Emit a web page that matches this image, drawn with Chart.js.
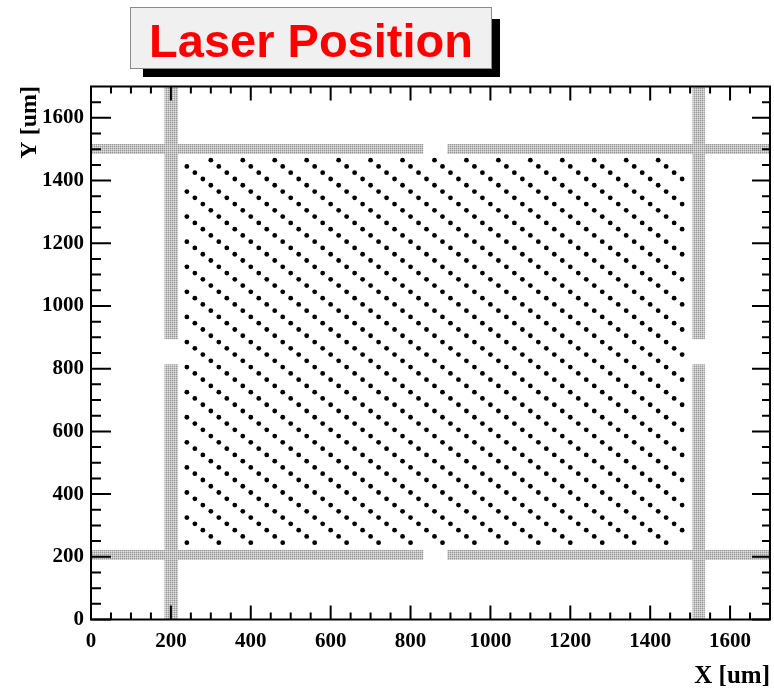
<!DOCTYPE html>
<html>
<head>
<meta charset="utf-8">
<script src="https://cdn.jsdelivr.net/npm/chart.js@4"></script>
<style>
  html, body { margin: 0; padding: 0; background: #fff; }
  #wrap { width: 774px; height: 689px; }
</style>
</head>
<body>
<div id="wrap"><canvas id="c" width="774" height="689"></canvas></div>
<script>
// ── data (um) ─────────────────────────────────
const colX = [240, 260, 280, 300, 320, 340, 360, 380, 400, 420, 440, 460, 480, 500, 520, 540,
  560, 580, 600, 620, 640, 660, 680, 700, 720, 740, 760, 780, 800, 820, 840, 860, 880, 900,
  920, 940, 960, 980, 1000, 1020, 1040, 1060, 1080, 1100, 1120, 1140, 1160, 1180, 1200, 1220,
  1240, 1260, 1280, 1300, 1320, 1340, 1360, 1380, 1400, 1420, 1440, 1460, 1480];
// laser spots in each column, columns repeat every 4
const rowsA = [1445, 1365, 1285, 1205, 1125, 1045, 965, 885, 805, 725, 645, 565, 485, 405, 325, 245];
const rowsB = [1425, 1345, 1265, 1185, 1105, 1025, 945, 865, 785, 705, 625, 545, 465, 385, 305];
const rowsC = [1405, 1325, 1245, 1165, 1085, 1005, 925, 845, 765, 685, 605, 525, 445, 365, 285];
const rowsD = [1465, 1385, 1305, 1225, 1145, 1065, 985, 905, 825, 745, 665, 585, 505, 425, 345, 265];
const colRows = [rowsA, rowsB, rowsC, rowsD];

// grey strips: horizontal ones (y range) split in x, vertical ones (x range) split in y
const stripH_Y = [[1485, 1517], [190, 222]];
const stripH_X = [[0, 832], [892, 1700]];
const stripV_X = [[184, 218], [1506, 1537]];
const stripV_Y = [[0, 814], [894, 1700]];

const xMajor = [0, 200, 400, 600, 800, 1000, 1200, 1400, 1600];
const xMinor = [50, 100, 150, 250, 300, 350, 450, 500, 550, 650, 700, 750, 850, 900, 950,
  1050, 1100, 1150, 1250, 1300, 1350, 1450, 1500, 1550, 1650];
const yMajor = xMajor;
const yMinor = xMinor;

// ── build ─────────────────────────────────────
const spots = colX.flatMap((x, i) => colRows[i % 4].map(y => ({ x, y })));

const pc = document.createElement('canvas');
pc.width = 2; pc.height = 2;
const pctx = pc.getContext('2d');
pctx.fillStyle = '#c2c2c2'; pctx.fillRect(0, 0, 2, 2);
pctx.fillStyle = '#999999'; pctx.fillRect(0, 0, 1, 1);
pctx.fillStyle = '#e0e0e0'; pctx.fillRect(1, 1, 1, 1);
const hatch = pctx.createPattern(pc, 'repeat');

function rect(x0, x1, y0, y1) {
  return {
    type: 'line',
    data: [{ x: x0, y: y0 }, { x: x1, y: y0 }, { x: x1, y: y1 }, { x: x0, y: y1 }, { x: x0, y: y0 }],
    showLine: true, borderWidth: 0, borderColor: 'rgba(0,0,0,0)',
    pointRadius: 0, fill: 'shape', backgroundColor: hatch, tension: 0,
  };
}
const strips = [];
stripH_Y.forEach(([y0, y1]) => stripH_X.forEach(([x0, x1]) => strips.push(rect(x0, x1, y0, y1))));
stripV_X.forEach(([x0, x1]) => stripV_Y.forEach(([y0, y1]) => strips.push(rect(x0, x1, y0, y1))));

const serif = 'Liberation Serif, Times New Roman, serif';

const decor = {
  id: 'decor',
  afterDraw(chart) {
    const { ctx, chartArea: a, scales: { x, y } } = chart;
    ctx.save();
    ctx.strokeStyle = '#000';
    ctx.lineWidth = 2;
    ctx.beginPath();
    const tickX = (vals, len) => vals.forEach(v => {
      const px = x.getPixelForValue(v);
      ctx.moveTo(px, a.bottom); ctx.lineTo(px, a.bottom - len);
      ctx.moveTo(px, a.top); ctx.lineTo(px, a.top + len);
    });
    const tickY = (vals, lenL, lenR) => vals.forEach(v => {
      const py = y.getPixelForValue(v);
      ctx.moveTo(a.left, py); ctx.lineTo(a.left + lenL, py);
      ctx.moveTo(a.right, py); ctx.lineTo(a.right - lenR, py);
    });
    tickX(xMajor, 14); tickX(xMinor, 7);
    tickY(yMajor, 20, 18); tickY(yMinor, 10, 8);
    ctx.stroke();
    ctx.strokeRect(a.left, a.top, a.right - a.left, a.bottom - a.top);

    // axis titles
    ctx.fillStyle = '#000';
    ctx.font = 'bold 25px ' + serif;
    ctx.textAlign = 'right'; ctx.textBaseline = 'middle';
    ctx.fillText('X [um]', 770, 677);
    ctx.translate(30, 86);
    ctx.rotate(-Math.PI / 2);
    ctx.font = 'bold 24px ' + serif;
    ctx.fillText('Y [um]', 0, 0);
    ctx.restore();

    // title box with shadow
    ctx.save();
    ctx.fillStyle = '#000';
    ctx.fillRect(143, 19, 357, 58);
    ctx.fillStyle = '#f0f0f0';
    ctx.fillRect(130, 7, 362, 62);
    ctx.strokeStyle = '#8a8a8a';
    ctx.lineWidth = 1;
    ctx.strokeRect(130.5, 7.5, 361, 61);
    ctx.fillStyle = '#ff0000';
    ctx.font = 'bold 47px Liberation Sans, Arial, sans-serif';
    ctx.textAlign = 'center'; ctx.textBaseline = 'alphabetic';
    ctx.fillText('Laser Position', 311, 57);
    ctx.restore();
  },
};

new Chart(document.getElementById('c'), {
  type: 'scatter',
  data: {
    datasets: [
      {
        label: 'spots', data: spots,
        pointRadius: 2.4, pointBackgroundColor: '#000', pointBorderWidth: 0, borderColor: '#000',
      },
      ...strips,
    ],
  },
  options: {
    responsive: false, animation: false, events: [],
    layout: { padding: { top: 86.5, right: 2, left: 0, bottom: 0 } },
    plugins: { legend: { display: false }, tooltip: { enabled: false } },
    scales: {
      x: {
        type: 'linear', min: 0, max: 1700,
        grid: { display: false, drawTicks: false }, border: { display: false },
        afterBuildTicks: s => { s.ticks = xMajor.map(v => ({ value: v })); },
        afterFit: s => { s.height = 69.5; },
        ticks: { autoSkip: false, maxRotation: 0, padding: 9, color: '#000',
          callback: v => String(v),
          font: { family: serif, weight: 'bold', size: 21 } },
      },
      y: {
        type: 'linear', min: 0, max: 1700,
        grid: { display: false, drawTicks: false }, border: { display: false },
        afterBuildTicks: s => { s.ticks = yMajor.map(v => ({ value: v })); },
        afterFit: s => { s.width = 91; },
        ticks: { autoSkip: false, padding: 7, color: '#000',
          callback: v => String(v),
          font: { family: serif, weight: 'bold', size: 21 } },
      },
    },
  },
  plugins: [decor],
});
</script>
</body>
</html>
